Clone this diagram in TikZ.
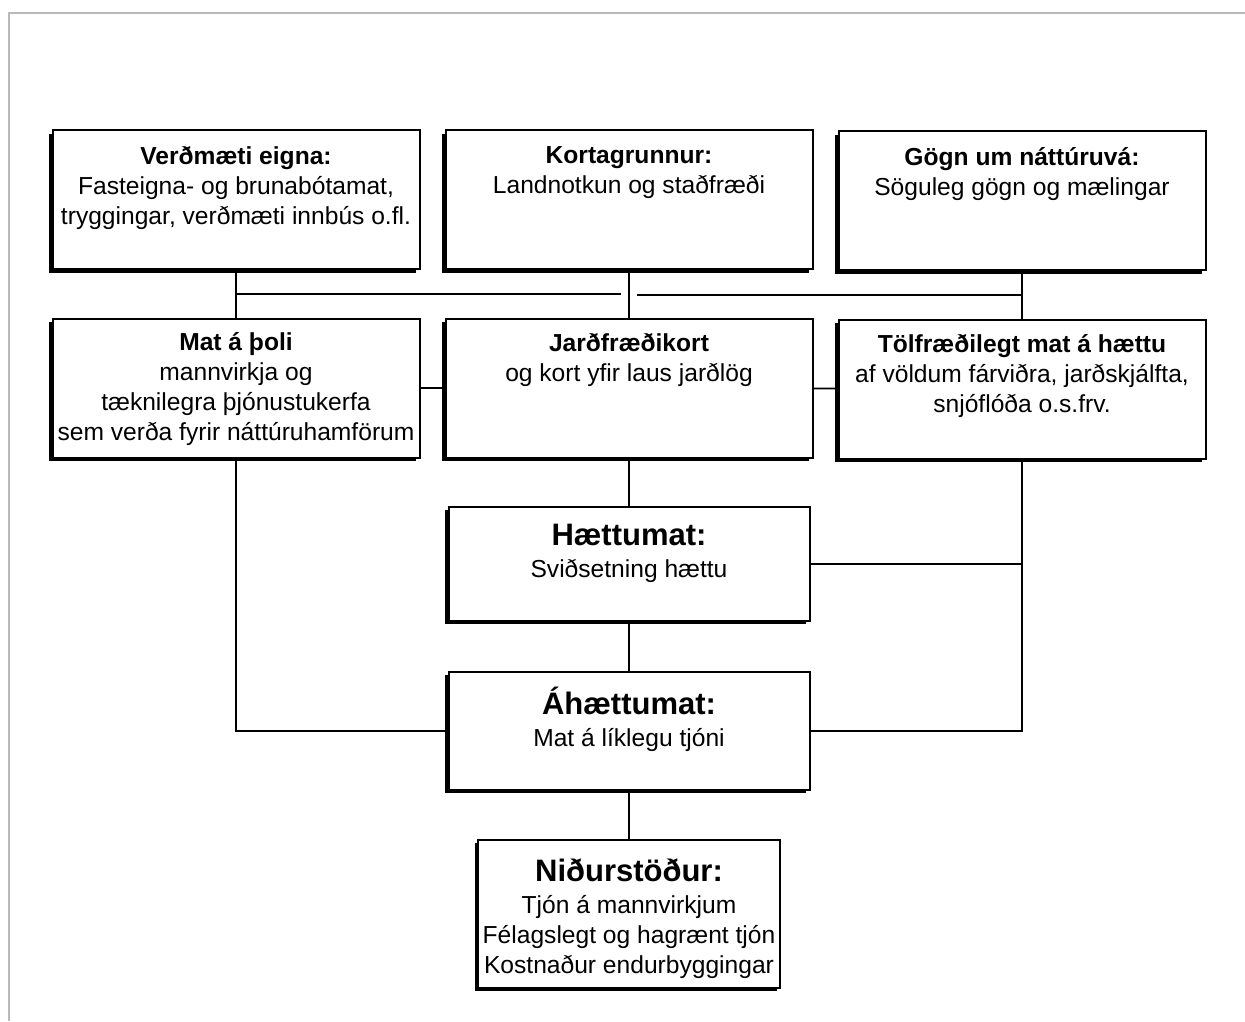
\documentclass[tikz,border=0pt]{standalone}
\usepackage{fontspec}
\setmainfont{Liberation Sans}
\usetikzlibrary{positioning,shadows,calc}
\newcommand{\hd}[1]{{\fontsize{15.5}{17}\selectfont\bfseries #1}}

\begin{document}
\begin{tikzpicture}[x=0.5pt, y=-0.5pt, line width=0.8pt,
    box/.style={draw, fill=white, line width=1pt, inner sep=0pt, minimum width=183.5pt, minimum height=69.5pt, drop shadow={shadow xshift=-1.6pt, shadow yshift=-1.6pt, fill=black, opacity=1}},
    txt/.style={align=center, inner sep=0pt, font=\fontsize{12.3}{15}\selectfont}]

        \useasboundingbox (0,0) rectangle (1245,1021);
        \draw[gray!55, line width=1pt] (9,1021) -- (9,13) -- (1245,13);

        \node[box] (eignir) at (236,200) {};
        \node[box] (kort) at (629,200) {};
        \node[box] (gogn) at (1022,201) {};
        \node[box] (thol) at (236,388) {};
        \node[box] (jard) at (629,388) {};
        \node[box] (tolfr) at (1022,389) {};
        \node[box, minimum width=180.5pt, minimum height=57pt] (haetta) at (629,564) {};
        \node[box, minimum width=180.5pt, minimum height=59pt] (ahaetta) at (629,731) {};
        \node[box, minimum width=151pt, minimum height=74pt] (nidur) at (629,914) {};

        \node[txt, below=8pt of eignir.north] (eignir-t) {\textbf{Verðmæti eigna:}\\Fasteigna- og brunabótamat,\\tryggingar, verðmæti innbús o.fl.};
        \node[txt, below=8pt of kort.north] (kort-t) {\textbf{Kortagrunnur:}\\Landnotkun og staðfræði};
        \node[txt, below=8pt of gogn.north] (gogn-t) {\textbf{Gögn um náttúruvá:}\\Söguleg gögn og mælingar};
        \node[txt, below=7pt of thol.north] (thol-t) {\textbf{Mat á þoli}\\mannvirkja og\\tæknilegra þjónustukerfa\\sem verða fyrir náttúruhamförum};
        \node[txt, below=7.5pt of jard.north] (jard-t) {\textbf{Jarðfræðikort}\\og kort yfir laus jarðlög};
        \node[txt, below=7.5pt of tolfr.north] (tolfr-t) {\textbf{Tölfræðilegt mat á hættu}\\af völdum fárviðra, jarðskjálfta,\\snjóflóða o.s.frv.};
        \node[txt, below=8.5pt of haetta.north] (haetta-t) {\hd{Hættumat:}\\[1pt]Sviðsetning hættu};
        \node[txt, below=7.5pt of ahaetta.north] (ahaetta-t) {\hd{Áhættumat:}\\[1pt]Mat á líklegu tjóni};
        \node[txt, below=9.5pt of nidur.north] (nidur-t) {\hd{Niðurstöður:}\\[1pt]Tjón á mannvirkjum\\Félagslegt og hagrænt tjón\\Kostnaður endurbyggingar};

        \coordinate (busl) at ($(eignir.south)!.5!(thol.north)$);
        \coordinate (busr) at ($(gogn.south)!.5!(tolfr.north)$);

        \path
            (eignir) edge (thol)
            (kort) edge (jard)
            (gogn) edge (tolfr)
            (thol) edge (jard)
            (jard) edge (tolfr)
            (jard) edge (haetta)
            (haetta) edge (ahaetta)
            (ahaetta) edge (nidur)
            ;
        \draw (busl) -- ([xshift=-4pt]busl -| kort.south);
        \draw ([xshift=4pt]busr -| kort.south) -- (busr);
        \draw (thol.south) |- (ahaetta.west);
        \draw (tolfr.south) |- (ahaetta.east);
        \draw (haetta.east) -- (haetta.east -| tolfr.south);
\end{tikzpicture}
\end{document}
